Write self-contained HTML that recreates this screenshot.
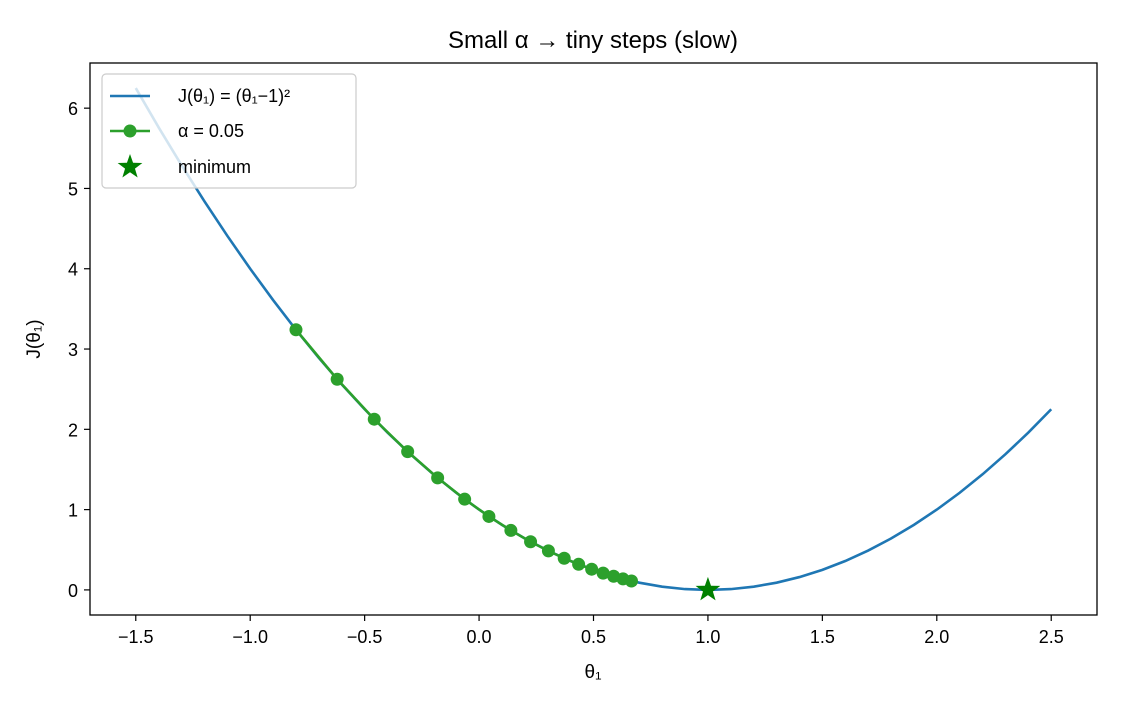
<!DOCTYPE html>
<html><head><meta charset="utf-8"><style>
body{margin:0;background:#fff;}
text{font-family:"Liberation Sans","DejaVu Sans",sans-serif;}
</style></head><body>
<svg id="chart" width="1122" height="714" xmlns="http://www.w3.org/2000/svg">
<text x="593" y="48" font-size="24" text-anchor="middle">Small α → tiny steps (slow)</text>
<g id="plot"></g>
<text x="593" y="678" font-size="19" text-anchor="middle">θ₁</text>
<text transform="translate(40,339) rotate(-90)" font-size="19" text-anchor="middle">J(θ₁)</text>
</svg>
<script>
const curveX=[-1.5,-1.4,-1.3,-1.2,-1.1,-1.0,-0.9,-0.8,-0.7,-0.6,-0.5,-0.4,-0.3,-0.2,-0.1,0,0.1,0.2,0.3,0.4,0.5,0.6,0.7,0.8,0.9,1.0,1.1,1.2,1.3,1.4,1.5,1.6,1.7,1.8,1.9,2.0,2.1,2.2,2.3,2.4,2.5];
const curveY=[6.25,5.76,5.29,4.84,4.41,4.0,3.61,3.24,2.89,2.56,2.25,1.96,1.69,1.44,1.21,1.0,0.81,0.64,0.49,0.36,0.25,0.16,0.09,0.04,0.01,0,0.01,0.04,0.09,0.16,0.25,0.36,0.49,0.64,0.81,1.0,1.21,1.44,1.69,1.96,2.25];
const stepX=[-0.8,-0.62,-0.458,-0.312,-0.181,-0.063,0.043,0.139,0.225,0.303,0.372,0.435,0.492,0.542,0.588,0.629,0.666];
const stepY=[3.24,2.624,2.126,1.722,1.395,1.130,0.915,0.741,0.600,0.486,0.394,0.319,0.258,0.209,0.170,0.137,0.111];
const minX=[1.0], minY=[0];
const xTicks=[-1.5,-1.0,-0.5,0.0,0.5,1.0,1.5,2.0,2.5];
const yTicks=[0,1,2,3,4,5,6];
const L=90,R=1097,T=63,B=615,x0=-1.7,x1=2.7,y0=-0.3125,y1=6.5625;
const sx=v=>L+(v-x0)/(x1-x0)*(R-L), sy=v=>B-(v-y0)/(y1-y0)*(B-T);
const g=document.getElementById('plot'),NS='http://www.w3.org/2000/svg';
function mk(t,a){const e=document.createElementNS(NS,t);for(const k in a)e.setAttribute(k,a[k]);g.appendChild(e);return e;}
let e=mk('polyline',{points:curveX.map((x,i)=>sx(x)+','+sy(curveY[i])).join(' '),fill:'none',stroke:'#1f77b4','stroke-width':2.6});


e=mk('polyline',{points:stepX.map((x,i)=>sx(x)+','+sy(stepY[i])).join(' '),fill:'none',stroke:'#2ca02c','stroke-width':2.6});


stepX.forEach((x,i)=>{const c=mk('circle',{cx:sx(x),cy:sy(stepY[i]),r:6.5,fill:'#2ca02c'});

});
function star(cx,cy,r){let p=[];for(let i=0;i<10;i++){const a=-Math.PI/2+i*Math.PI/5,rr=i%2?r*0.4:r;p.push((cx+rr*Math.cos(a))+','+(cy+rr*Math.sin(a)));}return p.join(' ');}
minX.forEach((x,i)=>{const s=mk('polygon',{points:star(sx(x),sy(minY[i]),13),fill:'#008000'});

});
e=mk('rect',{x:L,y:T,width:R-L,height:B-T,fill:'none',stroke:'#000','stroke-width':1.3});


xTicks.forEach(v=>{mk('line',{x1:sx(v),x2:sx(v),y1:B,y2:B+6,stroke:'#000','stroke-width':1.2});
const t=mk('text',{x:sx(v),y:B+28,'font-size':18,'text-anchor':'middle'});t.textContent=(v<0?'−':'')+Math.abs(v).toFixed(1);

});
yTicks.forEach(v=>{mk('line',{x1:L-6,x2:L,y1:sy(v),y2:sy(v),stroke:'#000','stroke-width':1.2});
const t=mk('text',{x:L-12,y:sy(v)+7,'font-size':18,'text-anchor':'end'});t.textContent=v;

});
// legend
e=mk('rect',{x:102,y:74,width:254,height:114,rx:4,fill:'rgba(255,255,255,0.8)',stroke:'#ccc','stroke-width':1.2});


mk('line',{x1:110,x2:150,y1:96,y2:96,stroke:'#1f77b4','stroke-width':2.6});
mk('line',{x1:110,x2:150,y1:131,y2:131,stroke:'#2ca02c','stroke-width':2.6});
mk('circle',{cx:130,cy:131,r:6.5,fill:'#2ca02c'});
mk('polygon',{points:star(130,167,13),fill:'#008000'});
[['J(θ₁) = (θ₁−1)²',102],['α = 0.05',137],['minimum',173]].forEach(([s,y])=>{const t=mk('text',{x:178,y:y,'font-size':18});t.textContent=s;

});
</script>
</body></html>
